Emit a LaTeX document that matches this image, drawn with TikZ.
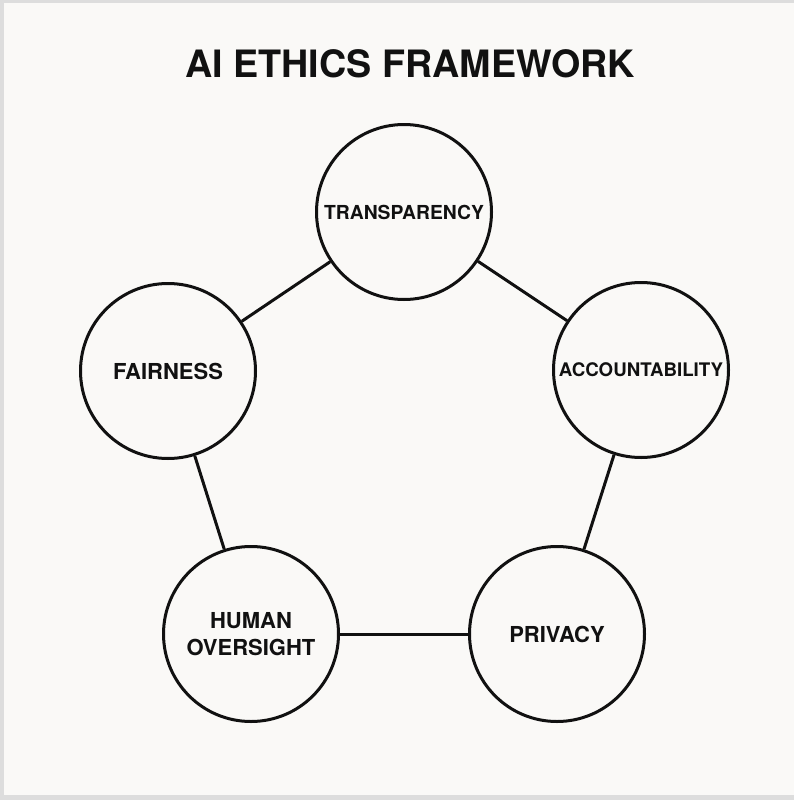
\documentclass[tikz,border=0pt]{standalone}
\usepackage{fontspec}
\setmainfont{TeX Gyre Heros}
\usetikzlibrary{positioning}
\definecolor{paper}{HTML}{FAF9F7}
\definecolor{frame}{HTML}{DDDDDD}
\definecolor{ink}{HTML}{111111}
\tikzset{thick,
    principle/.style={circle,draw=ink,line width=3pt,minimum size=175pt,
        inner sep=0pt,align=center,text=ink,
        font=\fontsize{22}{27}\selectfont\bfseries},
    squeezed/.style={font=\fontsize{#1}{27}\selectfont\bfseries},
    link/.style={draw=ink,line width=3pt},
    textnode/.style={text=ink,font=\fontsize{37.7}{40}\selectfont\bfseries}}
\begin{document}
\begin{tikzpicture}[x=1pt,y=-1pt]
\useasboundingbox (0,0) rectangle (794,800);
\fill[frame] (0,0) rectangle (794,800);
\fill[paper] (4,3) rectangle (794,795);

\node[textnode]  (title)   at (410,63.5)              {AI ETHICS FRAMEWORK};
\node[principle,squeezed=19.3] (transp) at (404,212) {TRANSPARENCY};
\node[principle] (fair)    at (168,371)               {FAIRNESS};
\node[principle,squeezed=18.7] (account) at (641,370) {ACCOUNTABILITY};
\node[principle] (privacy) at (557,634)               {PRIVACY};
\node[principle] (human)   at (251,634)               {HUMAN\\OVERSIGHT};

\path[link]
    (transp)  edge (account)
    (account) edge (privacy)
    (privacy) edge (human)
    (human)   edge (fair)
    (fair)    edge (transp);
\end{tikzpicture}
\end{document}
